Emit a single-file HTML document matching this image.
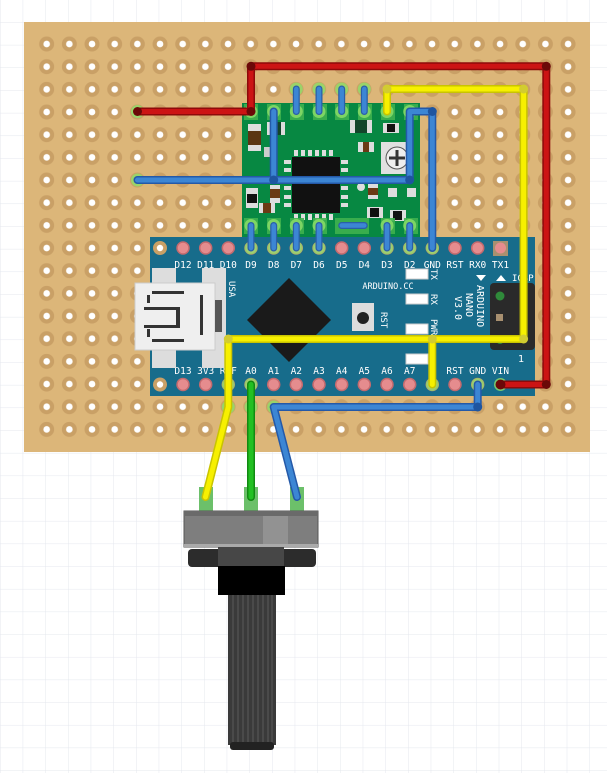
<!DOCTYPE html>
<html><head><style>
html,body{margin:0;padding:0;background:#fff;}
svg{display:block}
text{font-family:"DejaVu Sans Mono","Liberation Mono",monospace;}
</style></head><body>
<svg width="607" height="773" viewBox="0 0 607 773" xmlns="http://www.w3.org/2000/svg">
<defs>
<pattern id="grid" x="0.5" y="0" width="22.67" height="22.67" patternUnits="userSpaceOnUse">
<path d="M22.67 0V22.67M0 22.67H22.67" stroke="#e4e7ee" stroke-width="1" fill="none"/>
</pattern>
<pattern id="holes" x="35.35" y="32.67" width="22.67" height="22.67" patternUnits="userSpaceOnUse">
<circle cx="11.33" cy="11.33" r="7.5" fill="#c9a066"/>
<circle cx="11.33" cy="11.33" r="3.3" fill="#fff"/>
</pattern>
</defs>
<rect width="607" height="773" fill="#fff"/>
<rect width="607" height="773" fill="url(#grid)"/>
<!-- board -->
<rect x="24" y="22" width="566" height="430" fill="#dcb679"/>
<rect x="35" y="32.6" width="545" height="408" fill="url(#holes)"/>

<!-- module -->
<rect x="242" y="103" width="178" height="135" fill="#078842"/>
<g fill="#3fb24f" opacity="0.9">
<rect x="244" y="104" width="14" height="16"/><rect x="267" y="104" width="14" height="16"/><rect x="290" y="104" width="14" height="16"/><rect x="313" y="104" width="14" height="16"/><rect x="335" y="104" width="14" height="16"/><rect x="358" y="104" width="14" height="16"/><rect x="381" y="104" width="14" height="16"/><rect x="404" y="104" width="14" height="16"/>
</g>
<!-- module parts -->
<rect x="248" y="124" width="13" height="27" fill="#ddd"/><rect x="248" y="131" width="13" height="14" fill="#5a3512"/>
<rect x="267" y="122" width="18" height="13" fill="#ddd"/><rect x="271" y="122" width="10" height="13" fill="#13452a"/>
<rect x="350" y="120" width="22" height="13" fill="#ddd"/><rect x="355" y="120" width="12" height="13" fill="#13452a"/>
<rect x="383" y="123" width="16" height="10" fill="#ddd"/><rect x="387" y="124" width="8" height="8" fill="#111"/>
<rect x="358" y="142" width="16" height="10" fill="#ddd"/><rect x="363" y="142" width="6" height="10" fill="#6b3a14"/>
<rect x="381" y="142" width="26" height="32" fill="#e0e0e0"/>
<circle cx="397" cy="158" r="11" fill="#eee" stroke="#555" stroke-width="1"/>
<path d="M397 150v16M389 158h16" stroke="#333" stroke-width="3"/>
<rect x="264" y="147" width="10" height="10" fill="#ccc"/>
<rect x="292" y="157" width="48" height="56" fill="#111"/>
<g fill="#ddd">
<rect x="294" y="150" width="4" height="6"/><rect x="301" y="150" width="4" height="6"/><rect x="308" y="150" width="4" height="6"/><rect x="315" y="150" width="4" height="6"/><rect x="322" y="150" width="4" height="6"/><rect x="329" y="150" width="4" height="6"/>
<rect x="294" y="214" width="4" height="6"/><rect x="301" y="214" width="4" height="6"/><rect x="308" y="214" width="4" height="6"/><rect x="315" y="214" width="4" height="6"/><rect x="322" y="214" width="4" height="6"/><rect x="329" y="214" width="4" height="6"/>
<rect x="284" y="160" width="7" height="4"/><rect x="284" y="168" width="7" height="4"/><rect x="284" y="186" width="7" height="4"/><rect x="284" y="195" width="7" height="4"/><rect x="284" y="203" width="7" height="4"/>
<rect x="341" y="160" width="7" height="4"/><rect x="341" y="168" width="7" height="4"/><rect x="341" y="186" width="7" height="4"/><rect x="341" y="195" width="7" height="4"/><rect x="341" y="203" width="7" height="4"/>
</g>
<circle cx="361" cy="187" r="4" fill="#ddd"/>
<rect x="368" y="184" width="10" height="15" fill="#ddd"/><rect x="368" y="188" width="10" height="7" fill="#6b3a14"/>
<rect x="388" y="188" width="9" height="9" fill="#ddd"/><rect x="407" y="188" width="9" height="9" fill="#ddd"/>
<rect x="246" y="188" width="12" height="20" fill="#ddd"/><rect x="247" y="194" width="10" height="9" fill="#111"/>
<rect x="270" y="185" width="10" height="18" fill="#ddd"/><rect x="270" y="189" width="10" height="9" fill="#6b3a14"/>
<rect x="259" y="203" width="16" height="10" fill="#ddd"/><rect x="263" y="203" width="8" height="10" fill="#6b3a14"/>
<rect x="367" y="207" width="16" height="11" fill="#ddd"/><rect x="370" y="208" width="9" height="9" fill="#111"/>
<rect x="390" y="210" width="16" height="11" fill="#ddd"/><rect x="393" y="211" width="9" height="9" fill="#111"/>
<g fill="#3fb24f" opacity="0.9">
<rect x="244" y="218" width="14" height="16"/><rect x="267" y="218" width="14" height="16"/><rect x="290" y="218" width="14" height="16"/><rect x="313" y="218" width="14" height="16"/><rect x="335" y="218" width="34" height="16"/><rect x="381" y="218" width="14" height="16"/><rect x="404" y="218" width="14" height="16"/>
</g>

<!-- nano -->
<rect x="150" y="237" width="385" height="159" fill="#176c8b"/>
<circle cx="160" cy="248" r="7" fill="#c9a066"/><circle cx="160" cy="248" r="3.2" fill="#fff"/>
<circle cx="160" cy="384.5" r="7" fill="#c9a066"/><circle cx="160" cy="384.5" r="3.2" fill="#fff"/>
<g fill="#e58c8e" stroke="#c46a6e" stroke-width="1.5">
<circle cx="183" cy="248" r="6"/><circle cx="205.7" cy="248" r="6"/><circle cx="228.3" cy="248" r="6"/><circle cx="251" cy="248" r="6"/><circle cx="273.7" cy="248" r="6"/><circle cx="296.3" cy="248" r="6"/><circle cx="319" cy="248" r="6"/><circle cx="341.7" cy="248" r="6"/><circle cx="364.3" cy="248" r="6"/><circle cx="387" cy="248" r="6"/><circle cx="409.7" cy="248" r="6"/><circle cx="432.3" cy="248" r="6"/><circle cx="455" cy="248" r="6"/><circle cx="477.7" cy="248" r="6"/>
<circle cx="183" cy="384.5" r="6"/><circle cx="205.7" cy="384.5" r="6"/><circle cx="228.3" cy="384.5" r="6"/><circle cx="251" cy="384.5" r="6"/><circle cx="273.7" cy="384.5" r="6"/><circle cx="296.3" cy="384.5" r="6"/><circle cx="319" cy="384.5" r="6"/><circle cx="341.7" cy="384.5" r="6"/><circle cx="364.3" cy="384.5" r="6"/><circle cx="387" cy="384.5" r="6"/><circle cx="409.7" cy="384.5" r="6"/><circle cx="432.3" cy="384.5" r="6"/><circle cx="455" cy="384.5" r="6"/><circle cx="477.7" cy="384.5" r="6"/>
</g>
<rect x="493" y="241" width="15" height="15" fill="#a89070"/><circle cx="500.5" cy="248" r="5.5" fill="#e58c8e"/>
<g fill="#fff" font-size="9.5" text-anchor="middle">
<text x="183" y="268">D12</text><text x="205.7" y="268">D11</text><text x="228.3" y="268">D10</text><text x="251" y="268">D9</text><text x="273.7" y="268">D8</text><text x="296.3" y="268">D7</text><text x="319" y="268">D6</text><text x="341.7" y="268">D5</text><text x="364.3" y="268">D4</text><text x="387" y="268">D3</text><text x="409.7" y="268">D2</text><text x="432.3" y="268">GND</text><text x="455" y="268">RST</text><text x="477.7" y="268">RX0</text><text x="500.5" y="268">TX1</text>
<text x="183" y="374">D13</text><text x="205.7" y="374">3V3</text><text x="228.3" y="374">REF</text><text x="251" y="374">A0</text><text x="273.7" y="374">A1</text><text x="296.3" y="374">A2</text><text x="319" y="374">A3</text><text x="341.7" y="374">A4</text><text x="364.3" y="374">A5</text><text x="387" y="374">A6</text><text x="409.7" y="374">A7</text><text x="455" y="374">RST</text><text x="477.7" y="374">GND</text><text x="500.5" y="374">VIN</text>
<text x="388" y="289" font-size="8.5">ARDUINO.CC</text>
</g>
<path d="M476 275h10l-5 6z" fill="#fff"/><path d="M496 281h10l-5-6z" fill="#fff"/>
<g fill="#fff" font-size="9">
<text transform="translate(229,281) rotate(90)">USA</text>
<text transform="translate(381,312) rotate(90)">RST</text>
<text transform="translate(431,269) rotate(90)">TX</text>
<text transform="translate(431,294) rotate(90)">RX</text>
<text transform="translate(431,319) rotate(90)">PWR</text>
<text transform="translate(477,285) rotate(90)" font-size="10">ARDUINO</text>
<text transform="translate(466,293) rotate(90)" font-size="10">NANO</text>
<text transform="translate(455,296) rotate(90)" font-size="10">V3.0</text>
<text x="512" y="281" font-size="9">ICSP</text>
</g>
<g fill="#fff" stroke="#ccc" stroke-width="1">
<rect x="406" y="269" width="22" height="10"/><rect x="406" y="294" width="22" height="10"/><rect x="406" y="324" width="22" height="10"/><rect x="406" y="354" width="22" height="10"/>
</g>
<rect x="352" y="303" width="22" height="28" fill="#ddd"/><circle cx="363" cy="318" r="6" fill="#222"/>
<path d="M289 278L331 320L289 362L247 320Z" fill="#1a1a1a"/>
<rect x="152" y="268" width="24" height="100" fill="#ddd"/><rect x="202" y="268" width="24" height="100" fill="#ddd"/>
<rect x="135" y="283" width="80" height="67" fill="#efefef" stroke="#ccc"/>
<rect x="215" y="300" width="7" height="32" fill="#555"/>
<g fill="#333"><rect x="152" y="291" width="32" height="3"/><rect x="152" y="339" width="32" height="3"/><rect x="144" y="307" width="36" height="3"/><rect x="144" y="325" width="36" height="3"/><rect x="176" y="307" width="4" height="21"/><rect x="200" y="295" width="3" height="40"/><rect x="147" y="295" width="3" height="8"/><rect x="147" y="329" width="3" height="8"/></g>
<rect x="490" y="283" width="45" height="67" rx="4" fill="#2a2a2a"/>
<circle cx="500" cy="296" r="4.5" fill="#2f8a3a"/><rect x="496" y="314" width="7" height="7" fill="#a89070"/><circle cx="500" cy="340" r="4" fill="#2f8a3a"/>
<text x="518" y="362" fill="#fff" font-size="10">1</text>

<!-- wire endpoints glow -->
<g fill="#8fe06a" opacity="0.8">
<circle cx="137.5" cy="111.5" r="6.5"/><circle cx="137.5" cy="180" r="6.5"/>
<circle cx="251" cy="111.5" r="6.5"/><circle cx="273.7" cy="111.5" r="6.5"/><circle cx="296.3" cy="111.5" r="6.5"/><circle cx="319" cy="111.5" r="6.5"/><circle cx="341.7" cy="111.5" r="6.5"/><circle cx="364.3" cy="111.5" r="6.5"/><circle cx="387" cy="111.5" r="6.5"/><circle cx="409.7" cy="111.5" r="6.5"/>
<circle cx="296.3" cy="89" r="6.5"/><circle cx="319" cy="89" r="6.5"/><circle cx="341.7" cy="89" r="6.5"/><circle cx="364.3" cy="89" r="6.5"/>
<circle cx="251" cy="225.5" r="6.5"/><circle cx="273.7" cy="225.5" r="6.5"/><circle cx="296.3" cy="225.5" r="6.5"/><circle cx="319" cy="225.5" r="6.5"/><circle cx="387" cy="225.5" r="6.5"/><circle cx="409.7" cy="225.5" r="6.5"/>
<circle cx="251" cy="248" r="6.5"/><circle cx="273.7" cy="248" r="6.5"/><circle cx="296.3" cy="248" r="6.5"/><circle cx="319" cy="248" r="6.5"/><circle cx="387" cy="248" r="6.5"/><circle cx="409.7" cy="248" r="6.5"/><circle cx="432.3" cy="248" r="6.5"/>
<circle cx="228.3" cy="384.5" r="6.5"/><circle cx="251" cy="384.5" r="6.5"/><circle cx="432.3" cy="384.5" r="6.5"/><circle cx="477.7" cy="384.5" r="6.5"/><circle cx="500.5" cy="384.5" r="6.5"/>
<circle cx="228.3" cy="407" r="6.5"/><circle cx="251" cy="407" r="6.5"/><circle cx="273.7" cy="407" r="6.5"/>
</g>
<rect x="199" y="487" width="14" height="24" fill="#6cc06a"/><rect x="244" y="487" width="14" height="24" fill="#6cc06a"/><rect x="290" y="487" width="14" height="24" fill="#6cc06a"/>

<!-- wires -->
<g fill="none" stroke-linecap="round" stroke-linejoin="round">
<!-- short blues on module -->
<g stroke="#2a5fa8" stroke-width="7">
<path d="M296.3 89V111.5M319 89V111.5M341.7 89V111.5M364.3 89V111.5"/>
<path d="M251 225.5V248M273.7 225.5V248M296.3 225.5V248M319 225.5V248M387 225.5V248M409.7 225.5V248M341.7 225.5H364.3"/>
</g>
<g stroke="#3c86d4" stroke-width="4.5">
<path d="M296.3 89V111.5M319 89V111.5M341.7 89V111.5M364.3 89V111.5"/>
<path d="M251 225.5V248M273.7 225.5V248M296.3 225.5V248M319 225.5V248M387 225.5V248M409.7 225.5V248M341.7 225.5H364.3"/>
</g>
<!-- red -->
<path d="M137.5 111.5H251V66.3H546.3V384.5H500.5" stroke="#8e0a0a" stroke-width="8"/>
<path d="M137.5 111.5H251V66.3H546.3V384.5H500.5" stroke="#cc1414" stroke-width="5"/>
<!-- blue -->
<path d="M137.5 180H409.7V111.5H432.3V248M273.7 111.5V180" stroke="#2459a8" stroke-width="8"/>
<path d="M137.5 180H409.7V111.5H432.3V248M273.7 111.5V180" stroke="#3c86d4" stroke-width="5"/>
<path d="M273.7 407H477.7V384.5M273.7 407L297 497" stroke="#2459a8" stroke-width="8"/>
<path d="M273.7 407H477.7V384.5M273.7 407L297 497" stroke="#3c86d4" stroke-width="5"/>
<!-- green -->
<path d="M251 384.5V497" stroke="#128a12" stroke-width="8"/>
<path d="M251 384.5V497" stroke="#22c022" stroke-width="5"/>
<!-- yellow -->
<path d="M387 111.5V89H523.6V339H228.3V407L205.5 497M432.3 339V384.5" stroke="#c9c400" stroke-width="8"/>
<path d="M387 111.5V89H523.6V339H228.3V407L205.5 497M432.3 339V384.5" stroke="#f7f000" stroke-width="5"/>
</g>
<g fill="#6b0808"><circle cx="251" cy="66.3" r="4.5"/><circle cx="546.3" cy="66.3" r="4.5"/><circle cx="546.3" cy="384.5" r="4.5"/><circle cx="251" cy="111.5" r="4.5"/><circle cx="137.5" cy="111.5" r="4.5"/><circle cx="500.5" cy="384.5" r="5"/></g>
<g fill="#1e55a0"><circle cx="273.7" cy="180" r="4.5"/><circle cx="409.7" cy="180" r="4.5"/><circle cx="432.3" cy="111.5" r="4.5"/><circle cx="477.7" cy="407" r="4.5"/></g>
<g fill="#d2cc30"><circle cx="387" cy="89" r="4.5"/><circle cx="523.6" cy="89" r="4.5"/><circle cx="523.6" cy="339" r="4.5"/><circle cx="228.3" cy="339" r="4.5"/><circle cx="432.3" cy="339" r="4.5"/></g>

<!-- potentiometer -->
<rect x="184" y="511" width="134" height="36" fill="#7e7e7e" stroke="#555" stroke-width="1"/>
<rect x="184" y="511" width="134" height="5" fill="#6a6a6a"/>
<rect x="263" y="516" width="25" height="30" fill="#929292"/>
<rect x="184" y="544" width="134" height="3" fill="#aaa"/>
<rect x="188" y="549" width="128" height="18" rx="4" fill="#2c2c2c"/>
<rect x="218" y="547" width="66" height="20" fill="#474747"/>
<rect x="218" y="566" width="67" height="29" fill="#000"/>
<rect x="228" y="595" width="48" height="150" fill="#3a3a3a"/>
<g stroke="#555" stroke-width="1.2"><path d="M233 595v150M238 595v150M243 595v150M248 595v150M253 595v150M258 595v150M263 595v150M268 595v150M272 595v150"/></g>
<rect x="230" y="742" width="44" height="8" rx="3" fill="#222"/>
</svg>
</body></html>
